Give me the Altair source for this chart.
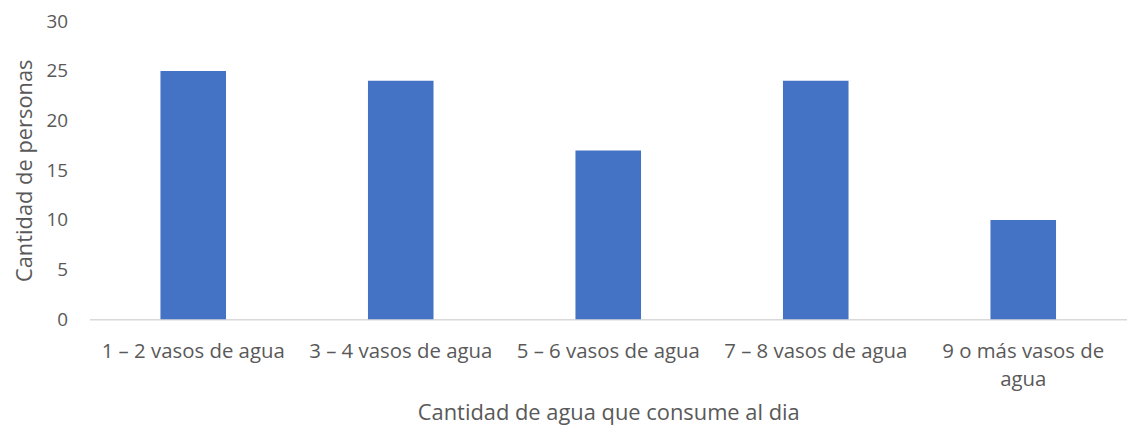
import altair as alt
import pandas as pd

categories = ["1 – 2 vasos de agua", "3 – 4 vasos de agua", "5 – 6 vasos de agua",
              "7 – 8 vasos de agua", "9 o más vasos de agua"]
values = [25, 24, 17, 24, 10]
y_ticks = [0, 5, 10, 15, 20, 25, 30]

df = pd.DataFrame({"cat": categories, "val": values})

FONT = "Open Sans"
GREY = "#595959"

chart = alt.Chart(df).mark_bar(color="#4472C4").encode(
    x=alt.X("cat:N", sort=categories,
            scale=alt.Scale(paddingInner=0.684, paddingOuter=0.342),
            axis=alt.Axis(title="Cantidad de agua que consume al dia", labelAngle=0,
                          labelExpr="datum.label == '9 o más vasos de agua' ? ['9 o más vasos de', 'agua'] : datum.label",
                          labelLineHeight=29, labelPadding=22, labelBaseline="top",
                          labelLimit=400,
                          ticks=False, domainColor="#D9D9D9", domainWidth=1.5,
                          labelFont=FONT, labelFontSize=20.5, labelColor=GREY,
                          titleFont=FONT, titleFontSize=22, titleColor=GREY,
                          titleFontWeight="normal", titlePadding=12)),
    y=alt.Y("val:Q", scale=alt.Scale(domain=[0, 30]),
            axis=alt.Axis(title="Cantidad de personas", values=y_ticks, grid=False,
                          domain=False, ticks=False, labelPadding=22,
                          labelFont=FONT, labelFontSize=19, labelColor=GREY,
                          titleFont=FONT, titleFontSize=22, titleColor=GREY,
                          titleFontWeight="normal", titlePadding=10)),
).properties(
    width=1044, height=300,
    autosize=alt.AutoSizeParams(type="none"),
    padding={"left": 82, "top": 12, "right": 0, "bottom": 106},
).configure_view(stroke=None)

chart.save("out.html", embed_options={"renderer": "svg", "actions": False})
